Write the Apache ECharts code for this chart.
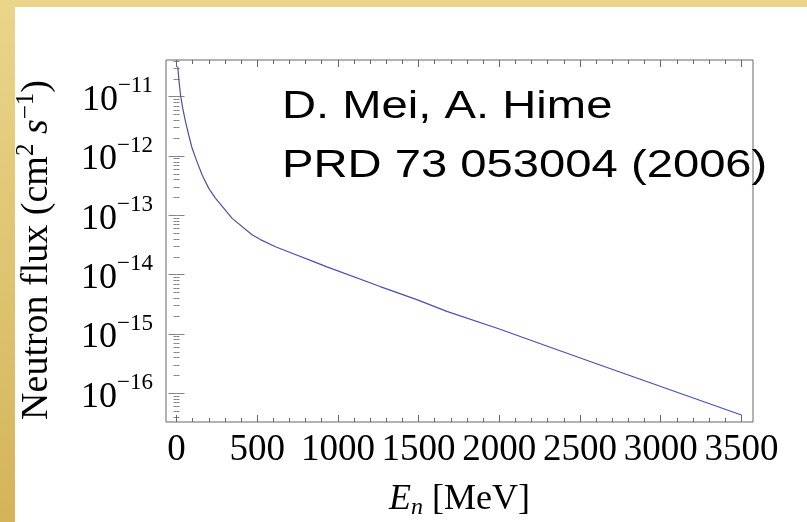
<!DOCTYPE html>
<html>
<head>
<meta charset="utf-8">
<script src="https://cdn.jsdelivr.net/npm/echarts@6/dist/echarts.min.js"></script>
<style>
  html, body { margin: 0; padding: 0; }
  #chart { width: 807px; height: 522px; }
</style>
</head>
<body>
<div id="chart"></div>
<script>
// values
const energy = [8, 14, 25, 39, 56, 76, 97, 128, 159, 200, 241, 345, 468, 520, 613, 736, 850, 932, 1262, 1489, 1675, 2005, 2190, 2624, 3500]
const flux = [3.24e-11, 2.04e-11, 1.07e-11, 6.3e-12, 3.8e-12, 2.24e-12, 1.35e-12, 7.9e-13, 4.8e-13, 2.85e-13, 1.95e-13,
  8.9e-14, 4.7e-14, 3.9e-14, 2.95e-14, 2.19e-14, 1.66e-14, 1.35e-14, 6.3e-15, 3.8e-15, 2.4e-15, 1.2e-15, 7.9e-16, 3.0e-16, 4.3e-17]
const xTicks = [0, 500, 1000, 1500, 2000, 2500, 3000, 3500]
const yTicks = [1e-16, 1e-15, 1e-14, 1e-13, 1e-12, 1e-11]

const xMin = -65, xMax = 3572
const yMin = 3.28e-17, yMax = 4.16e-11

const serif = 'Liberation Serif'
const frameColor = '#666'

// minor tick marks (frame decoration only)
const xMinor = []
for (let v = 100; v < 3572; v += 100) if (v % 500 !== 0) xMinor.push(v)
const yMinor = []
for (let n = -17; n <= -11; n++) {
  for (let k = 2; k <= 9; k++) {
    const v = k * Math.pow(10, n)
    if (v > yMin && v < yMax) yMinor.push(v)
  }
}

function xAxis(pos, ticks, len, withLabels) {
  return {
    type: 'value', position: pos, min: xMin, max: xMax,
    axisLine: { show: false, onZero: false },
    splitLine: { show: false },
    axisTick: { show: true, inside: true, length: len, customValues: ticks, lineStyle: { color: frameColor } },
    axisLabel: withLabels ? {
      show: true, customValues: ticks, margin: 10, color: '#000',
      fontFamily: serif, fontSize: 37, hideOverlap: false,
      showMinLabel: true, showMaxLabel: true,
      formatter: v => String(v)
    } : { show: false }
  }
}

function yAxis(pos, ticks, len, withLabels) {
  return {
    type: 'log', logBase: 10, position: pos, min: yMin, max: yMax,
    axisLine: { show: false },
    splitLine: { show: false },
    axisTick: { show: true, inside: true, length: len, customValues: ticks, lineStyle: { color: frameColor, width: 0.8 } },
    axisLabel: withLabels ? {
      show: true, customValues: ticks, margin: 13, color: '#000', hideOverlap: false,
      showMinLabel: true, showMaxLabel: true,
      formatter: function (v) {
        const e = Math.round(Math.log10(v))
        return '{b|10}{s|\u2212' + Math.abs(e) + '}'
      },
      rich: {
        b: { fontFamily: serif, fontSize: 36, color: '#000', lineHeight: 44, verticalAlign: 'bottom' },
        s: { fontFamily: serif, fontSize: 23, color: '#000', lineHeight: 23, verticalAlign: 'top' }
      }
    } : { show: false }
  }
}

const xAxes = [
  xAxis('bottom', xTicks, 7, true),
  xAxis('bottom', xMinor, 4, false),
  xAxis('top', xTicks, 7, false),
  xAxis('top', xMinor, 4, false)
]
Object.assign(xAxes[0], {
  name: '{i|E}{sub|n} [MeV]',
  nameLocation: 'middle',
  nameGap: 58,
  nameTextStyle: {
    fontFamily: serif, fontSize: 36, color: '#000', lineHeight: 40,
    rich: {
      i: { fontFamily: serif, fontSize: 36, fontStyle: 'italic', color: '#000', lineHeight: 40 },
      sub: { fontFamily: serif, fontSize: 24, fontStyle: 'italic', color: '#000', lineHeight: 24, verticalAlign: 'bottom' }
    }
  }
})

const yAxes = [
  yAxis('left', yTicks, 8, true),
  yAxis('left', yMinor, 3, false),
  yAxis('right', yTicks, 8, false),
  yAxis('right', yMinor, 3, false)
]
Object.assign(yAxes[0], {
  name: 'Neutron flux (cm{sp|2} {it|s}{sp|\u22121})',
  nameLocation: 'middle',
  nameRotate: 90,
  nameGap: 106,
  nameTextStyle: {
    fontFamily: serif, fontSize: 38, color: '#000', lineHeight: 46,
    padding: [0, 18, 0, 0],
    rich: {
      it: { fontFamily: serif, fontSize: 38, fontStyle: 'italic', color: '#000', lineHeight: 46 },
      sp: { fontFamily: serif, fontSize: 25, color: '#000', lineHeight: 25, verticalAlign: 'top' }
    }
  }
})

const chart = echarts.init(document.getElementById('chart'))
chart.setOption({
  animation: false,
  backgroundColor: {
    type: 'linear', x: 0, y: 0, x2: 0, y2: 1,
    colorStops: [{ offset: 0, color: '#ead58a' }, { offset: 1, color: '#d4b45a' }]
  },
  grid: {
    left: 166, right: 54, top: 60, bottom: 100,
    outerBoundsMode: 'none',
    show: true, borderColor: frameColor, borderWidth: 1, backgroundColor: 'transparent'
  },
  xAxis: xAxes,
  yAxis: yAxes,
  graphic: [
    { type: 'rect', z: -10, silent: true, shape: { x: 15, y: 7, width: 792, height: 515 }, style: { fill: '#fff' } },
    {
      type: 'text', z: 100, x: 282, y: 107, scaleX: 1.21,
      style: { text: 'D. Mei, A. Hime', fill: '#000', font: '39px "Liberation Sans"', align: 'left', verticalAlign: 'middle' }
    },
    {
      type: 'text', z: 100, x: 282, y: 166, scaleX: 1.21,
      style: { text: 'PRD 73 053004 (2006)', fill: '#000', font: '39px "Liberation Sans"', align: 'left', verticalAlign: 'middle' }
    }
  ],
  series: [
    {
      type: 'line',
      xAxisIndex: 0,
      yAxisIndex: 0,
      data: energy.map((e, i) => [e, flux[i]]),
      showSymbol: false,
      smooth: false,
      lineStyle: { color: '#4a4fb2', width: 1.2 }
    }
  ]
})
</script>
</body>
</html>
